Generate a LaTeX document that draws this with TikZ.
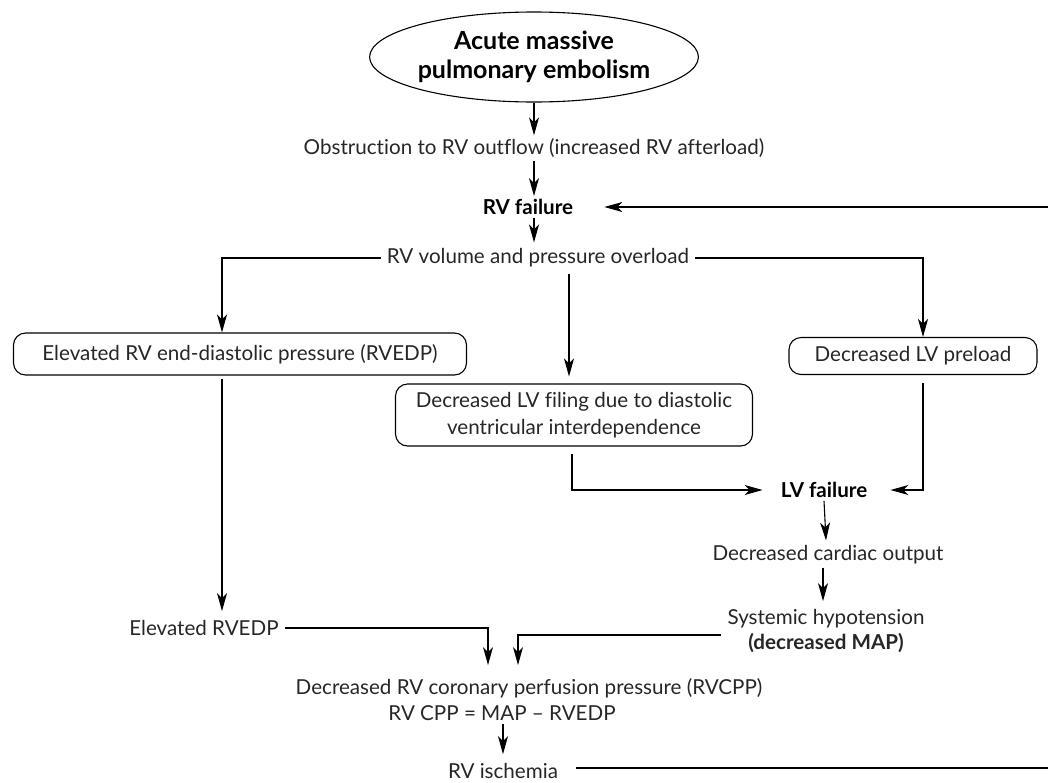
\documentclass[tikz,border=0pt]{standalone}
\usepackage{fontspec}
\setmainfont[Ligatures={NoCommon,NoContextual}]{Lato}
\usetikzlibrary{arrows.meta,shapes.geometric,calc}
\begin{document}
\begin{tikzpicture}[x=1pt,y=-1pt,
  txt/.style={font=\fontsize{20.6}{27}\selectfont, inner sep=3pt, align=center, text=black!85},
  btxt/.style={font=\fontsize{20.6}{27}\selectfont\bfseries, inner sep=3pt, align=center},
  arr/.style={draw, line width=1.1pt, -{Stealth[length=18pt,width=10pt,inset=5pt]}},
  thick arr/.style={arr, line width=1.8pt},
  rbox/.style={draw, line width=1.1pt, rounded corners=12pt, align=center, inner sep=0pt,
    font=\fontsize{20.6}{27}\selectfont, text=black!85}]
\path[use as bounding box] (0,0) rectangle (1048,782);
\clip (0,0) rectangle (1048,782);

\node[ellipse, draw, line width=1.1pt, minimum width=288pt, minimum height=90pt, align=center,
  font=\fontsize{25}{29}\selectfont\bfseries, inner sep=0pt] (pe) at (534,57) {Acute massive\\pulmonary embolism};
\node[txt] (obs) at (534,148) {Obstruction to RV outflow (increased RV afterload)};
\node[btxt] (rvf) at (528,207) {RV failure};
\node[txt, inner sep=6pt] (vol) at (538,258) {RV volume and pressure overload};

\node[rbox, minimum width=453pt, minimum height=42pt] (rvedp) at (240,354) {Elevated RV end-diastolic pressure (RVEDP)};
\node[rbox, minimum width=248pt, minimum height=37pt] (pre) at (913,356) {Decreased LV preload};
\node[rbox, minimum width=357pt, minimum height=62pt] (fil) at (574,415) {Decreased LV filing due to diastolic\\ventricular interdependence};

\node[btxt] (lvf) at (824,490) {LV failure};
\node[txt] (co) at (828,555) {Decreased cardiac output};
\node[txt, inner sep=6pt] (hyp) at (826,631) {Systemic hypotension\\[-2pt]\textbf{(decreased MAP)}};
\node[txt, inner sep=6pt] (elev) at (204,628) {Elevated RVEDP};
\node[txt] (cpp) at (529,688) {Decreased RV coronary perfusion pressure (RVCPP)};
\node[txt] (cppeq) at (502,713) {RV CPP = MAP -- RVEDP};
\node[txt, inner sep=6pt] (isch) at (503,771) {RV ischemia};

\coordinate (loopcorner) at (1070,207);

% main chain
\draw[arr] (pe.south) -- (pe.south |- obs.north);
\draw[arr] (obs.south) -- (obs.south |- rvf.north);
\draw[arr] (obs.south |- rvf.south) -- (obs.south |- vol.north);

% branches
\draw[arr] (vol.west) -| ($(rvedp.north)+(-18,0)$);
\draw[arr] (vol.east) -| ($(pre.north)+(10,0)$);
\draw[arr] ($(vol.south)+(31,0)$) -- ($(fil.north)+(-5,-7)$);

\draw[arr] ($(rvedp.south)+(-18,3)$) -- ($(elev.north)+(18,-3)$);
\draw[arr] ($(fil.south)+(-2,7)$) |- ($(lvf.west)+(-15,0)$);
\draw[thick arr] ($(pre.south)+(10,8)$) |- ($(lvf.east)+(20,0)$);

\draw[arr] (lvf.south) -- ($(co.north)+(-2,-2)$);
\draw[arr] ($(co.south)+(-5,0)$) -- ($(hyp.north)+(-3,-2)$);

\draw[arr] (elev.east) -| ($(cpp.north)+(-41,-10)$);
\draw[arr] ([yshift=-4pt]hyp.west) -| ($(cpp.north)+(-11,-10)$);

\draw[arr] ($(cppeq.south)+(1,0)$) -- ($(isch.north)+(0,-3)$);

% feedback loop
\draw[arr] ([xshift=12pt,yshift=3pt]isch.east) -| (loopcorner) -- ($(rvf.east)+(28,0)$);
\end{tikzpicture}
\end{document}
